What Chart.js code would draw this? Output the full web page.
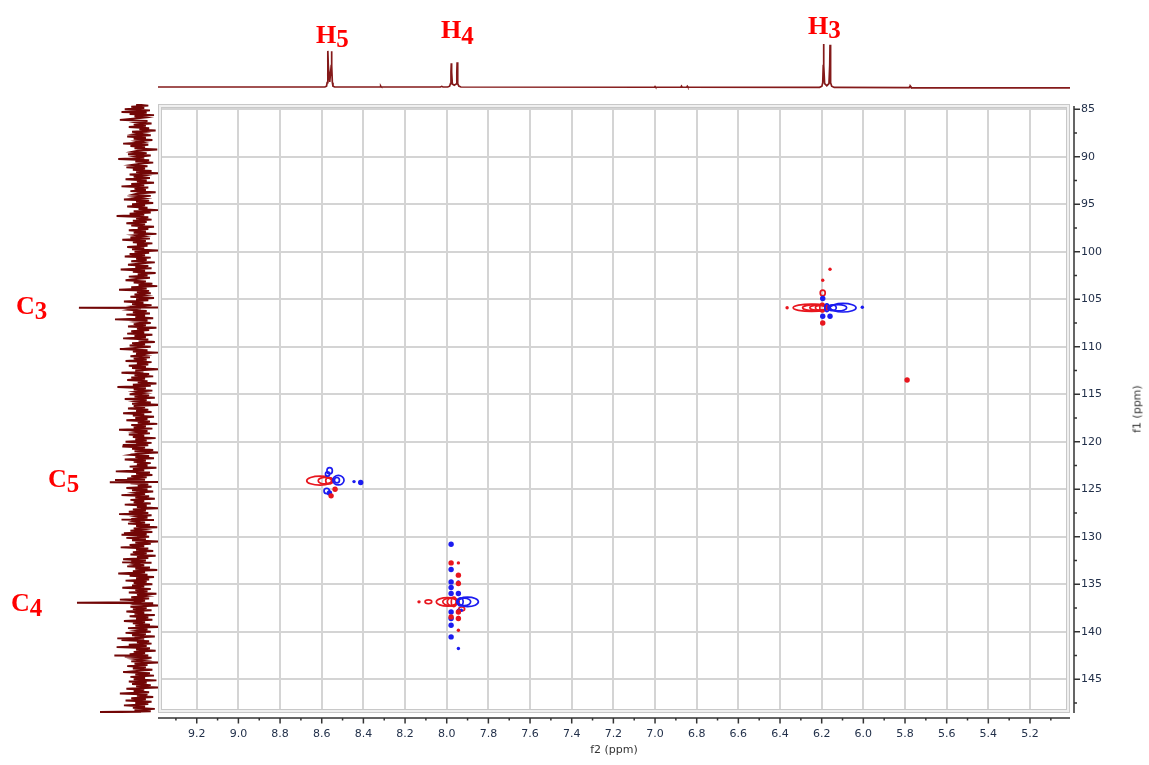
<!DOCTYPE html>
<html>
<head>
<meta charset="utf-8">
<script src="https://cdn.jsdelivr.net/npm/chart.js@4.4.1/dist/chart.umd.min.js"></script>
<style>
  body { margin: 0; background: #fff; }
  #wrap { position: relative; width: 1149px; height: 765px; overflow: hidden; }
  canvas { position: absolute; }
  .lbl { position: absolute; font-family: 'Liberation Serif', serif; font-weight: bold; font-size: 26px; line-height: 26px; color: #ff0000; white-space: nowrap; }
  .lbl span { font-size: 25px; position: relative; top: 5px; }
  #f1 { position: absolute; left: 1137px; top: 409px; transform: translate(-50%, -50%) rotate(-90deg); font: 11px 'DejaVu Sans'; color: #333; white-space: nowrap; }
</style>
</head>
<body>
<div id="wrap">
  <canvas id="main" width="1149" height="765" style="left:0;top:0"></canvas>
  <canvas id="top" width="912" height="56" style="left:158px;top:40px"></canvas>
  <canvas id="side" width="98" height="609" style="left:60px;top:104px"></canvas>
  <div class="lbl" style="left:316px;top:22px">H<span style="top:4px">5</span></div>
  <div class="lbl" style="left:441px;top:17px">H<span style="top:6px">4</span></div>
  <div class="lbl" style="left:808px;top:13px">H<span style="top:4px">3</span></div>
  <div class="lbl" style="left:16px;top:293px">C<span>3</span></div>
  <div class="lbl" style="left:48px;top:466px">C<span>5</span></div>
  <div class="lbl" style="left:11px;top:590px">C<span>4</span></div>
  <div id="f1">f1 (ppm)</div>
</div>
<script>
// axes
const xTickLabels = ['9.2','9.0','8.8','8.6','8.4','8.2','8.0','7.8','7.6','7.4','7.2','7.0','6.8','6.6','6.4','6.2','6.0','5.8','5.6','5.4','5.2'];
const xMinor = [9.3,9.1,8.9,8.7,8.5,8.3,8.1,7.9,7.7,7.5,7.3,7.1,6.9,6.7,6.5,6.3,6.1,5.9,5.7,5.5,5.3,5.1];
const yTickLabels = ['85','90','95','100','105','110','115','120','125','130','135','140','145'];
const yMinor = [87.5,92.5,97.5,102.5,107.5,112.5,117.5,122.5,127.5,132.5,137.5,142.5,147.5];
const f2Range = [5.008, 9.386];
const f1Range = [84.453, 148.558];

// 1H trace on top (ppm, relative intensity)
const protonPpm = [9.386,8.60,8.585,8.577,8.574,8.5715,8.570,8.5685,8.5615,8.5545,8.553,8.5515,8.549,8.546,8.538,
  8.3195,8.317,8.3155,8.314,8.3115,8.03,8.024,8.018,
  7.995,7.986,7.982,7.9795,7.978,7.9765,7.973,7.964,7.955,7.9515,7.950,7.9485,7.946,7.942,7.932,
  7.003,7.0,6.997,6.876,6.873,6.87,6.848,6.845,6.842,
  6.21,6.199,6.195,6.1925,6.191,6.1895,6.186,6.1755,6.165,6.1615,6.160,6.1585,6.156,6.152,6.14,
  5.78,5.776,5.7745,5.773,5.769,5.008];
const protonInt = [0,0,0,0.02,0.1,0.5,0.84,0.5,0.12,0.5,0.83,0.5,0.1,0.02,0,
  0,0.02,0.008,0.02,0,0,0.015,0,
  0,0.02,0.08,0.35,0.55,0.35,0.07,0.04,0.07,0.35,0.575,0.35,0.08,0.02,0,
  -0.005,0.012,-0.005,-0.005,0.02,-0.005,-0.005,0.018,-0.005,
  -0.008,0.02,0.1,0.5,1.0,0.5,0.08,0.03,0.08,0.5,0.98,0.5,0.1,0.02,-0.01,
  -0.012,0.018,0.005,0.018,-0.012,-0.02];

// 13C trace on the left: noise on a regular ppm grid (1/80 intensity units) plus the peaks
const carbonStart = 84.5;
const carbonStep = 0.125;
const carbonNoise = [
  6,-9,12,-4,20,-11,3,-7,14,-16,8,-5,10,26,-8,4,-13,9,-6,15,-10,2,-18,11,-3,7,-12,
  17,-6,9,-14,5,-2,22,-9,13,-5,8,-20,4,11,-7,16,-12,6,-4,28,-10,7,-15,3,12,-8,18,
  -5,10,-13,6,-22,14,-3,9,-11,19,-7,5,-16,12,-4,24,-9,8,-6,13,-18,4,10,-12,7,-3,21,
  -10,6,-15,11,-5,17,-8,3,-21,9,-12,14,-4,30,-9,6,-13,10,-7,18,-5,12,-16,4,-9,15,-6,
  9,-19,7,-3,13,-11,23,-6,10,-14,5,-8,17,-4,11,-23,8,-10,14,-5,20,-12,6,-7,12,-17,3,
  16,-9,7,-13,25,-5,10,-18,4,-8,15,-11,6,19,-6,9,-14,3,-20,12,-7,27,-10,5,-12,8,-4,
  13,-16,6,-9,21,-3,11,-13,8,-24,5,14,-7,10,-11,18,-5,7,-15,32,-8,4,-12,9,-6,16,-19,
  5,-10,12,-4,17,-14,8,-6,22,-9,3,-17,11,-5,14,-12,7,26,-8,10,-21,6,-4,13,-11,9,-7,
  19,-13,5,-9,15,-6,11,-22,7,-3,24,-10,8,-15,12,-5,17,-8,4,-19,10,-12,29,-6,9,-14,6,
  -4,14,-10,8,-17,20,-7,5,-12,11,-25,9,-5,16,-9,6,-13,22,-4,10,-16,7,-8,18,-11,4,-20,
  12,-6,9,-14,27,-8,5,-11,15,-4,10,-18,7,-7,19,-13,6,-9,23,-5,11,-15,8,-22,4,13,-10,
  7,-16,20,-6,9,-12,5,-8,14,-19,10,-4,31,-11,6,-14,12,-7,17,-5,8,-21,13,-9,4,-13,18,
  -8,11,-15,6,-5,24,-10,7,-17,13,-4,9,-12,20,-7,5,-23,10,-6,15,-9,27,-13,4,-8,12,-16,
  8,-5,16,-11,6,-20,9,-3,13,-14,21,-7,5,-10,18,-6,11,-24,7,-12,14,-4,25,-9,6,-15,10,
  -7,13,-18,5,-9,22,-6,12,-13,8,-4,17,-11,7,-20,10,-5,28,-8,14,-16,6,-10,19,-7,9,-14,
  11,-4,23,-12,7,-8,15,-19,5,-6,12,-10,26,-5,9,-15,6,-22,13,-7,10,-13,18,-4,8,-17,14,
  -9,6,-14,21,-5,10,-11,7,-25,16,-8,4,-12,19,-6,11,-17,8,-4,24,-10,5,-13,15,-7,30,-11,
  6,-18,9,-5,14,-9,20,-13,7,-4,12,-21,8,-8,17,-6,10,-14,5,22,-11,7,-16,13,-5,9,-19,
  15,-7,11,-12,6,-23,18,-4,9,-10,26,-8,5,-15,12,-6,19,-13,7,-9,21,-5,10,-17,8,-12,16];
const carbonPeaks = [[85.3,0.30],[105.9,0.955],[120.35,0.28],[124.03,0.40],[124.27,0.48],[128.2,0.30],
  [129.8,0.30],[132.7,0.29],[136.95,0.985],[140.7,0.365],[142.5,0.41],[148.45,0.63]];

// HSQC contours [f2, f1, half width f2, half width f1]
const posContours = [
  [6.2485,105.9,0.0885,0.39],[6.23,105.9,0.062,0.32],[6.215,105.9,0.042,0.28],[6.205,105.9,0.025,0.25],[6.197,105.9,0.012,0.45],[6.195,104.34,0.012,0.3],
  [8.608,124.1,0.064,0.47],[8.585,124.1,0.032,0.34],[8.565,124.1,0.016,0.32],
  [7.995,136.86,0.055,0.45],[7.985,136.86,0.034,0.38],[7.975,136.86,0.022,0.42],[7.966,136.86,0.012,0.5],[8.088,136.86,0.016,0.2],[7.928,137.6,0.014,0.2]];
const negContours = [
  [6.0975,105.9,0.0625,0.45],[6.12,105.9,0.04,0.33],[6.15,105.9,0.02,0.3],[6.175,105.9,0.01,0.4],
  [8.52,124.05,0.027,0.5],[8.527,124.05,0.012,0.28],[8.562,123.05,0.013,0.32],[8.572,123.4,0.01,0.22],[8.576,125.18,0.013,0.28],
  [7.90,136.86,0.052,0.5],[7.915,136.86,0.03,0.38],[7.935,136.86,0.014,0.42]];
const posDotsLarge = [[6.195,107.5],[7.979,132.76],[7.944,134.05],[7.944,134.93],[7.979,138.44],[7.944,137.92],[7.944,138.61],
  [8.536,125.0],[8.555,125.7],[5.79,113.5]];
const posDotsSmall = [[6.160,101.84],[6.195,103.0],[6.366,105.9],[8.133,136.86],[7.944,132.76],[7.944,139.84]];
const negDotsLarge = [[6.195,104.93],[6.195,106.79],[6.160,106.79],[8.413,124.3],[8.563,125.4],
  [7.979,130.79],[7.979,133.45],[7.979,134.76],[7.979,135.35],[7.979,135.98],[7.979,137.92],[7.979,138.61],[7.979,139.32],[7.979,140.55],[7.944,135.98]];
const negDotsSmall = [[6.005,105.85],[8.445,124.2],[7.944,134.76],[7.944,137.74],[7.944,138.5],[7.944,141.77],[7.93,137.74]];

const RED = '#e8161e', BLUE = '#1c1cf0', TRACE = '#841a1a';
const tickFont = { family: 'DejaVu Sans', size: 11 };
const toXY = list => list.map(p => ({ x: p[0], y: p[1] }));
const quiet = { legend: { display: false }, tooltip: { enabled: false } };

const plotFrame = {
  id: 'plotFrame',
  beforeDatasetsDraw(chart) {
    const { ctx, chartArea: a } = chart;
    ctx.save();
    ctx.strokeStyle = '#f0f0f0';
    ctx.lineWidth = 3;
    ctx.strokeRect(a.left + 2, a.top + 2, a.width - 4, a.height - 4);
    ctx.strokeStyle = '#c8c8c8';
    ctx.lineWidth = 1;
    ctx.strokeRect(a.left + 0.5, a.top + 0.5, a.width - 1, a.height - 1);
    ctx.strokeRect(a.left + 3.5, a.top + 3.5, a.width - 7, a.height - 7);
    ctx.restore();
  }
};

const contours = {
  id: 'contours',
  beforeDatasetsDraw(chart) {
    const { ctx, scales: { x, y } } = chart;
    ctx.save();
    ctx.lineWidth = 1.7;
    [[posContours, RED], [negContours, BLUE]].forEach(([list, color]) => {
      ctx.strokeStyle = color;
      list.forEach(([cx, cy, rx, ry]) => {
        const px = x.getPixelForValue(cx), py = y.getPixelForValue(cy);
        const w = Math.abs(x.getPixelForValue(cx + rx) - px);
        const h = Math.abs(y.getPixelForValue(cy + ry) - py);
        ctx.beginPath();
        ctx.ellipse(px, py, w, h, 0, 0, Math.PI * 2);
        ctx.stroke();
      });
    });
    ctx.restore();
  }
};

// axis lines sit a few pixels outside the frame, with long and short ticks
const axisLines = {
  id: 'axisLines',
  afterDraw(chart) {
    const { ctx, scales: { x, y }, chartArea: a } = chart;
    const xb = a.bottom + 5, yr = a.right + 4;
    ctx.save();
    ctx.strokeStyle = '#333';
    ctx.lineWidth = 1.5;
    ctx.beginPath();
    ctx.moveTo(a.left, xb); ctx.lineTo(a.right, xb);
    ctx.moveTo(yr, a.top + 2); ctx.lineTo(yr, a.bottom);
    xTickLabels.forEach(t => { const p = x.getPixelForValue(parseFloat(t)); ctx.moveTo(p, xb); ctx.lineTo(p, xb + 5.5); });
    xMinor.forEach(v => { const p = x.getPixelForValue(v); ctx.moveTo(p, xb); ctx.lineTo(p, xb + 2.5); });
    yTickLabels.forEach(t => { const p = y.getPixelForValue(parseFloat(t)); ctx.moveTo(yr, p); ctx.lineTo(yr + 6, p); });
    yMinor.forEach(v => { const p = y.getPixelForValue(v); ctx.moveTo(yr, p); ctx.lineTo(yr + 3, p); });
    ctx.stroke();
    ctx.restore();
  }
};

new Chart(document.getElementById('main'), {
  type: 'scatter',
  data: {
    datasets: [
      { data: toXY(posDotsLarge), backgroundColor: RED, borderWidth: 0, pointRadius: 2.7 },
      { data: toXY(posDotsSmall), backgroundColor: RED, borderWidth: 0, pointRadius: 1.7 },
      { data: toXY(negDotsLarge), backgroundColor: BLUE, borderWidth: 0, pointRadius: 2.7 },
      { data: toXY(negDotsSmall), backgroundColor: BLUE, borderWidth: 0, pointRadius: 1.7 }
    ]
  },
  options: {
    responsive: false,
    animation: false,
    devicePixelRatio: 1,
    layout: { padding: { left: 158, top: 104, right: 0, bottom: 0 } },
    plugins: quiet,
    scales: {
      x: {
        type: 'linear', position: 'bottom', reverse: true, bounds: 'data',
        min: f2Range[0], max: f2Range[1],
        afterBuildTicks: s => { s.ticks = xTickLabels.map(t => ({ value: parseFloat(t) })); },
        afterFit: s => { s.height = 52; },
        ticks: { autoSkip: false, maxRotation: 0, padding: 15, color: '#22304a', font: tickFont, callback: (v, i) => xTickLabels[i] },
        grid: { color: '#d4d4d4', lineWidth: 2, drawTicks: false },
        border: { display: false },
        title: { display: true, text: 'f2 (ppm)', color: '#333', font: tickFont, padding: { top: 0, bottom: 8 } }
      },
      y: {
        type: 'linear', position: 'right', reverse: true, bounds: 'data',
        min: f1Range[0], max: f1Range[1],
        afterBuildTicks: s => { s.ticks = yTickLabels.map(t => ({ value: parseFloat(t) })); },
        afterFit: s => { s.width = 79; },
        ticks: { autoSkip: false, padding: 11, color: '#22304a', font: tickFont, callback: (v, i) => yTickLabels[i] },
        grid: { color: '#d4d4d4', lineWidth: 2, drawTicks: false },
        border: { display: false }
      }
    }
  },
  plugins: [plotFrame, contours, axisLines]
});

new Chart(document.getElementById('top'), {
  type: 'scatter',
  data: {
    datasets: [{
      data: protonPpm.map((p, i) => ({ x: p, y: protonInt[i] })),
      showLine: true, borderColor: TRACE, borderWidth: 1.7, pointRadius: 0
    }]
  },
  options: {
    responsive: false, animation: false, devicePixelRatio: 1, plugins: quiet,
    scales: {
      x: { display: false, reverse: true, bounds: 'data', min: f2Range[0], max: f2Range[1] },
      y: { display: false, bounds: 'data', min: -0.209, max: 1.093 }
    }
  }
});

const carbonPoints = carbonNoise.map((v, i) => ({ x: v / 80, y: carbonStart + i * carbonStep }));
carbonPeaks.forEach(([p, v]) => {
  carbonPoints.push({ x: 0, y: p - 0.05 }, { x: v, y: p }, { x: 0, y: p + 0.05 });
});
carbonPoints.sort((a, b) => a.y - b.y);

new Chart(document.getElementById('side'), {
  type: 'scatter',
  data: {
    datasets: [{ data: carbonPoints, showLine: true, borderColor: '#720606', borderWidth: 1.9, pointRadius: 0 }]
  },
  options: {
    responsive: false, animation: false, devicePixelRatio: 1, plugins: quiet,
    scales: {
      x: { display: false, reverse: true, bounds: 'data', min: -0.2615, max: 1.246 },
      y: { display: false, reverse: true, bounds: 'data', min: f1Range[0], max: f1Range[1] }
    }
  }
});
</script>
</body>
</html>
